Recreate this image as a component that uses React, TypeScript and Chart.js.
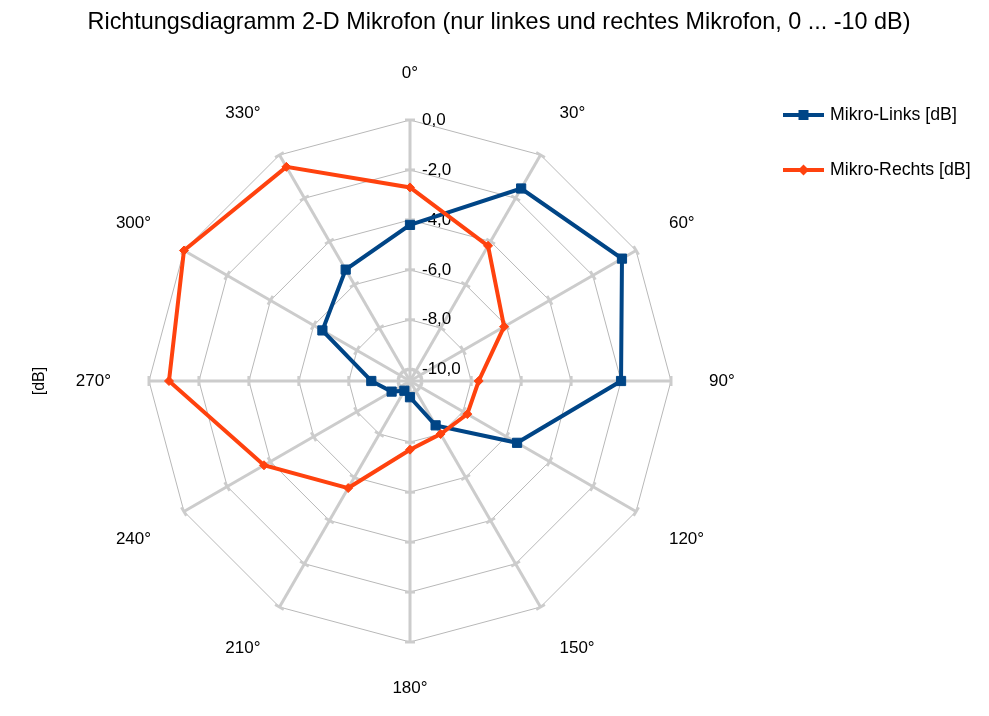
import React, { useEffect, useRef } from "react";
import Chart from "chart.js/auto";

// angles of the directional diagram (clockwise from the top)
const angleLabels = ["0°", "30°", "60°", "90°", "120°", "150°", "180°", "210°", "240°", "270°", "300°", "330°"];

// level in dB
const mikroLinks = [-4.2, -1.55, -0.65, -2.0, -5.5, -8.4, -9.8, -10.0, -9.6, -8.9, -6.4, -5.3];
const mikroRechts = [-2.7, -4.2, -6.1, -7.7, -7.8, -8.0, -7.7, -5.5, -3.7, -0.8, 0.0, -0.55];

const tickValues = [-10, -8, -6, -4, -2, 0];
const seriesNames = ["Mikro-Links [dB]", "Mikro-Rechts [dB]"];
const seriesColors = ["#004586", "#ff420e"];
const seriesMarkers = ["rect", "rectRot"];

const titleText = "Richtungsdiagramm 2-D Mikrofon (nur linkes und rechtes Mikrofon, 0 ... -10 dB)";
const axisTitle = "[dB]";

const FONT = "'Liberation Sans', Arial, sans-serif";

function drawMarker(ctx: CanvasRenderingContext2D, kind: string, x: number, y: number) {
  ctx.beginPath();
  if (kind === "rect") {
    ctx.rect(x - 5, y - 5, 10, 10);
  } else {
    ctx.moveTo(x, y - 5.5);
    ctx.lineTo(x + 5.5, y);
    ctx.lineTo(x, y + 5.5);
    ctx.lineTo(x - 5.5, y);
    ctx.closePath();
  }
  ctx.fill();
}

const decorPlugin = {
  id: "decor",
  beforeDatasetsDraw(chart: any) {
    const ctx: CanvasRenderingContext2D = chart.ctx;
    const s = chart.scales.r;
    const n = angleLabels.length;
    ctx.save();
    // little tick marks across the spokes
    ctx.strokeStyle = "#cccccc";
    ctx.lineWidth = 3;
    for (let i = 0; i < n; i++) {
      const a = (i * 2 * Math.PI) / n;
      const nx = Math.cos(a);
      const ny = Math.sin(a);
      for (const v of tickValues) {
        const p = s.getPointPosition(i, s.getDistanceFromCenterForValue(v));
        ctx.beginPath();
        ctx.moveTo(p.x - nx * 5, p.y - ny * 5);
        ctx.lineTo(p.x + nx * 5, p.y + ny * 5);
        ctx.stroke();
      }
    }
    // tick labels
    ctx.fillStyle = "#000";
    ctx.font = `17px ${FONT}`;
    ctx.textAlign = "left";
    ctx.textBaseline = "middle";
    for (const v of tickValues) {
      const d = s.getDistanceFromCenterForValue(v);
      ctx.fillText(v.toFixed(1).replace(".", ","), s.xCenter + 12, s.yCenter - d);
    }
    ctx.restore();
  },
  afterDraw(chart: any) {
    const ctx: CanvasRenderingContext2D = chart.ctx;
    const s = chart.scales.r;
    const n = angleLabels.length;
    ctx.save();
    ctx.fillStyle = "#000";

    // title
    ctx.font = `23.4px ${FONT}`;
    ctx.textAlign = "center";
    ctx.textBaseline = "alphabetic";
    ctx.fillText(titleText, 499, 29);

    // angle labels
    ctx.font = `17px ${FONT}`;
    for (let i = 0; i < n; i++) {
      const deg = (i * 360) / n;
      const p = s.getPointPosition(i, s.drawingArea + 38);
      ctx.textAlign = deg === 0 || deg === 180 ? "center" : deg < 180 ? "left" : "right";
      ctx.textBaseline = deg === 90 || deg === 270 ? "middle" : deg > 270 || deg < 90 ? "bottom" : "top";
      ctx.fillText(angleLabels[i], p.x, p.y);
    }

    // axis title
    ctx.save();
    ctx.translate(40, s.yCenter);
    ctx.rotate(-Math.PI / 2);
    ctx.textAlign = "center";
    ctx.textBaseline = "middle";
    ctx.font = `16px ${FONT}`;
    ctx.fillText(axisTitle, 0, 0);
    ctx.restore();

    // legend
    seriesNames.forEach((name, k) => {
      const y = 115 + k * 55;
      ctx.strokeStyle = seriesColors[k];
      ctx.fillStyle = seriesColors[k];
      ctx.lineWidth = 4;
      ctx.beginPath();
      ctx.moveTo(783, y);
      ctx.lineTo(824, y);
      ctx.stroke();
      drawMarker(ctx, seriesMarkers[k], 803.5, y);
      ctx.fillStyle = "#000";
      ctx.font = `17.7px ${FONT}`;
      ctx.textAlign = "left";
      ctx.textBaseline = "middle";
      ctx.fillText(name, 830, y);
    });
    ctx.restore();
  },
};

const RadarChart: React.FC = () => {
  const canvasRef = useRef<HTMLCanvasElement>(null);

  useEffect(() => {
    if (!canvasRef.current) return;
    const chart = new Chart(canvasRef.current, {
      type: "radar",
      data: {
        labels: angleLabels,
        datasets: [
          {
            label: seriesNames[0],
            data: mikroLinks,
            borderColor: seriesColors[0],
            backgroundColor: seriesColors[0],
            borderWidth: 4,
            pointStyle: "rect",
            pointRadius: 6.5,
            pointBorderWidth: 1,
            fill: false,
            order: 1,
          },
          {
            label: seriesNames[1],
            data: mikroRechts,
            borderColor: seriesColors[1],
            backgroundColor: seriesColors[1],
            borderWidth: 4,
            pointStyle: "rectRot",
            pointRadius: 4.5,
            pointBorderWidth: 1,
            fill: false,
            order: 0,
          },
        ],
      },
      options: {
        responsive: false,
        animation: false,
        layout: { padding: { left: 149, top: 120, right: 318, bottom: 74 } },
        plugins: {
          legend: { display: false },
          title: { display: false },
          tooltip: { enabled: false },
        },
        scales: {
          r: {
            min: -10.45,
            max: 0,
            angleLines: { color: "#cccccc", lineWidth: 3 },
            grid: { color: "#b8b8b8", lineWidth: 1 },
            pointLabels: { display: false },
            ticks: { display: false, stepSize: 2 },
            afterBuildTicks: (scale: any) => {
              scale.ticks = tickValues.map((v) => ({ value: v }));
            },
          },
        },
      },
      plugins: [decorPlugin],
    });
    return () => chart.destroy();
  }, []);

  return <canvas ref={canvasRef} width={989} height={716} style={{ display: "block" }} />;
};

export default function App() {
  return (
    <div style={{ position: "fixed", left: 0, top: 0, width: 989, height: 716, background: "#fff" }}>
      <RadarChart />
    </div>
  );
}
